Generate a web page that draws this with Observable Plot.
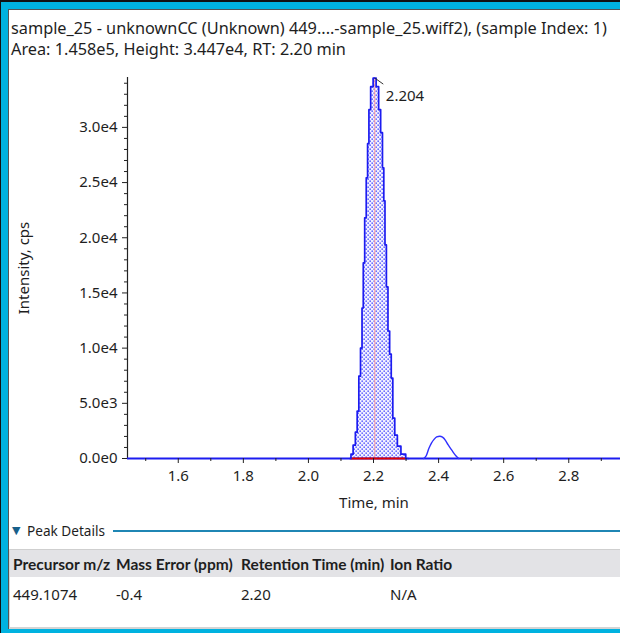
<!DOCTYPE html>
<html><head><meta charset="utf-8">
<script src="https://cdn.jsdelivr.net/npm/d3@7"></script>
<script src="https://cdn.jsdelivr.net/npm/@observablehq/plot@0.6"></script>
<style>
html,body{margin:0;padding:0;width:620px;height:633px;overflow:hidden;background:#00b2e0;font-family:"Noto Sans",sans-serif;color:#1e1e1e}
#topline{position:absolute;left:0;top:0;width:620px;height:2px;background:#111}
#leftline{position:absolute;left:0;top:0;width:1px;height:633px;background:#111}
#panel{position:absolute;left:8px;top:9px;width:612px;height:620px;background:#fff;border-top:1px solid #555;border-left:1px solid #555;box-sizing:border-box}
.t{position:absolute;white-space:nowrap;font-size:15px;line-height:18px}
.title{font-size:16.3px;line-height:20px}
#chart{position:absolute;left:9px;top:60px}
#pd-line{position:absolute;left:113px;top:530px;width:507px;height:2px;background:#1f86b4}
#tri{position:absolute;left:12px;top:522px;font-size:11px;color:#17608a;font-family:"DejaVu Sans",sans-serif;line-height:18px}
#thead{position:absolute;left:9px;top:549px;width:611px;height:28px;background:#e3e3e6;border-top:1px solid #cfcfcf;box-sizing:border-box}
#tbot{position:absolute;left:9px;top:627px;width:611px;height:2px;background:#d4d4d4}
#tleft{position:absolute;left:9px;top:549px;width:1px;height:79px;background:#d4d4d4}
.h{font-weight:bold;font-family:Lato,sans-serif;font-size:15.5px}
</style></head>
<body>
<div id="topline"></div><div id="leftline"></div>
<div id="panel"></div>
<div class="t title" style="left:11px;top:18px">sample_25 - unknownCC (Unknown) 449....-sample_25.wiff2), (sample Index: 1)</div>
<div class="t title" style="left:11px;top:39px">Area: 1.458e5, Height: 3.447e4, RT: 2.20 min</div>
<div id="chart"></div>
<div id="tri">▼</div>
<div class="t" style="left:27px;top:522px;font-size:13.6px">Peak Details</div>
<div id="pd-line"></div>
<div id="thead"></div>
<div id="tleft"></div>
<div id="tbot"></div>
<div id="table"></div>
<script>
// ---- data ----
const peakTime = [2.128, 2.1335, 2.1412, 2.1473, 2.1524, 2.1574, 2.1627, 2.1668, 2.1704, 2.1754, 2.1800, 2.1836, 2.1882, 2.1943, 2.2034, 2.2127, 2.2189, 2.2250, 2.2301, 2.2332, 2.2373, 2.2419, 2.2470, 2.2522, 2.2568, 2.2619, 2.2687, 2.2779, 2.2906, 2.3075];
const peakIntensity = [0, 390, 1207, 2386, 4292, 7468, 10009, 13638, 17722, 21805, 25434, 28520, 31605, 33692, 34470, 33692, 31605, 29518, 26342, 23347, 19355, 15544, 11551, 9464, 7286, 3657, 2115, 1116, 390, 0];
const minorTime = [2.354, 2.362, 2.370, 2.378, 2.386, 2.394, 2.404, 2.412, 2.421, 2.429, 2.437, 2.445, 2.453, 2.462];
const minorIntensity = [0, 250, 900, 1400, 1730, 1950, 2020, 1930, 1650, 1250, 900, 560, 250, 0];
const apexTime = 2.204, apexHeight = 34470, apexLabel = "2.204";
const integrationStart = 2.130, integrationEnd = 2.299;
const xDomain = [1.444, 2.959];
const yDomain = [0, 34520];
const xTicks = [1.6, 1.8, 2.0, 2.2, 2.4, 2.6, 2.8];
const xMinorTicks = [1.5, 1.7, 1.9, 2.1, 2.3, 2.5, 2.7, 2.9];
const yTicks = [0, 5000, 10000, 15000, 20000, 25000, 30000];
const yMinorTicks = d3.range(1000, 35000, 1000).filter(v => v % 5000 !== 0);
const xLabel = "Time, min", yLabel = "Intensity, cps";
const tableHeaders = ["Precursor m/z", "Mass Error (ppm)", "Retention Time (min)", "Ion Ratio"];
const tableValues = ["449.1074", "-0.4", "2.20", "N/A"];
const columnLeft = [13, 116, 241, 390];

const peak = peakTime.map((t, i) => ({t, v: peakIntensity[i]}));
const minor = minorTime.map((t, i) => ({t, v: minorIntensity[i]}));
const fmtY = d => d.toExponential(1).replace("e+", "e");
const blue = "#1c1cf0";

const chart = Plot.plot({
  width: 611, height: 455,
  marginLeft: 118, marginRight: 0, marginTop: 17, marginBottom: 57,
  style: {fontFamily: '"Noto Sans", sans-serif', fontSize: "15px", color: "#1e1e1e", background: "transparent", overflow: "visible"},
  x: {domain: xDomain, axis: null},
  y: {domain: yDomain, axis: null},
  marks: [
    Plot.areaY(peak, {x: "t", y: "v", curve: "step", fill: "url(#dots)"}),
    Plot.ruleX([apexTime], {y1: 0, y2: apexHeight, stroke: "#ff9c9c", strokeWidth: 1}),
    Plot.ruleX([xDomain[0]], {stroke: "#222", strokeWidth: 1.2}),
    Plot.ruleY([0], {stroke: blue, strokeWidth: 2}),
    Plot.ruleY([0], {x1: integrationStart, x2: integrationEnd, stroke: "#e00000", strokeWidth: 2}),
    Plot.line(peak, {x: "t", y: "v", curve: "step", stroke: blue, strokeWidth: 1.7}),
    Plot.line(minor, {x: "t", y: "v", curve: "monotone-x", stroke: "#3030ff", strokeWidth: 1.4}),
    Plot.link([apexTime], {x1: d => d, y1: apexHeight, x2: d => d + 0.026, y2: apexHeight - 550, stroke: "#333", strokeWidth: 1}),
    Plot.text([apexLabel], {x: apexTime, y: apexHeight, dx: 11, dy: 18, textAnchor: "start", fill: "#1e1e1e"}),
    Plot.axisX(xTicks, {anchor: "bottom", tickSize: 5, tickPadding: 7, tickFormat: d => d.toFixed(1), label: null, stroke: "#222"}),
    Plot.axisX(xMinorTicks, {anchor: "bottom", tickSize: 3, tickFormat: () => "", label: null, stroke: "#222"}),
    Plot.axisY(yTicks, {anchor: "left", tickSize: 5, tickPadding: 5, tickFormat: fmtY, label: null, stroke: "#222"}),
    Plot.axisY(yMinorTicks, {anchor: "left", tickSize: 3, tickFormat: () => "", label: null, stroke: "#222"}),
    Plot.text([xLabel], {frameAnchor: "bottom", dy: 45, lineAnchor: "middle", textAnchor: "middle", fill: "#1e1e1e"}),
    Plot.text([yLabel], {frameAnchor: "left", rotate: -90, dx: -103, textAnchor: "middle", lineAnchor: "middle", fill: "#1e1e1e"})
  ]
});
const ns = "http://www.w3.org/2000/svg";
const defs = document.createElementNS(ns, "defs");
defs.innerHTML = `<pattern id="dots" width="4" height="4" patternUnits="userSpaceOnUse">
  <rect width="4" height="4" fill="#f2f2ff"/>
  <rect x="0.5" y="0.5" width="1.3" height="1.3" fill="#2626ff"/>
  <rect x="2.5" y="2.5" width="1.3" height="1.3" fill="#2626ff"/>
</pattern>`;
chart.insertBefore(defs, chart.firstChild);
document.getElementById("chart").appendChild(chart);

const table = document.getElementById("table");
tableHeaders.forEach((h, i) => {
  const d = document.createElement("div");
  d.className = "t h"; d.style.left = columnLeft[i] + "px"; d.style.top = "555px";
  d.textContent = h; table.appendChild(d);
  const e = document.createElement("div");
  e.className = "t"; e.style.left = columnLeft[i] + "px"; e.style.top = "585px";
  e.textContent = tableValues[i]; table.appendChild(e);
});
</script>
</body></html>
